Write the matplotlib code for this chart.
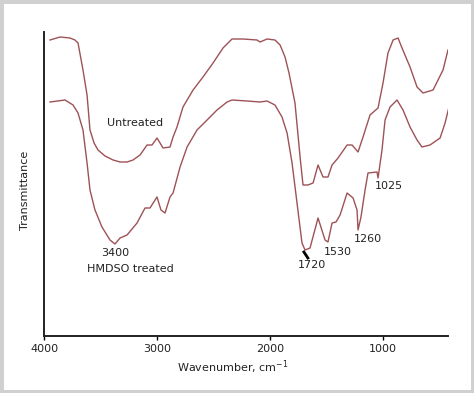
import matplotlib.pyplot as plt
from matplotlib.patches import Rectangle

# wavenumber (cm-1) and transmittance (arbitrary units)
wn_untreated = [3947, 3858, 3770, 3726, 3699, 3655, 3619, 3593, 3557, 3522,
                3460, 3389, 3327, 3265, 3212, 3150, 3088, 3044, 3000, 2973,
                2947, 2885, 2858, 2823, 2770, 2681, 2593, 2504, 2416, 2336,
                2239, 2115, 2088, 2026, 1956, 1911, 1867, 1832, 1779, 1734,
                1708, 1664, 1619, 1575, 1531, 1487, 1451, 1398, 1318, 1274,
                1221, 1177, 1115, 1044, 1000, 956, 911, 867, 832, 761,
                699, 646, 557, 469, 425]
tr_untreated = [296, 299, 298, 296, 293, 266, 241, 206, 193, 186,
                180, 176, 174, 174, 176, 181, 191, 191, 198, 193,
                188, 189, 199, 209, 229, 246, 259, 273, 288, 297,
                297, 296, 294, 297, 296, 291, 279, 263, 233, 179,
                151, 151, 153, 171, 159, 159, 171, 178, 191, 191,
                184, 199, 221, 228, 253, 283, 296, 298, 288, 269,
                249, 243, 246, 266, 286]

wn_treated = [3947, 3814, 3743, 3699, 3655, 3619, 3593, 3549, 3487, 3416,
              3372, 3327, 3265, 3177, 3106, 3062, 3000, 2965, 2929, 2885,
              2858, 2796, 2734, 2646, 2557, 2469, 2380, 2336, 2203, 2088,
              2026, 1956, 1894, 1849, 1805, 1761, 1717, 1690, 1646, 1575,
              1513, 1487, 1451, 1416, 1380, 1318, 1265, 1230, 1221, 1195,
              1159, 1133, 1053, 1044, 1009, 982, 938, 876, 823, 761,
              699, 655, 584, 495, 451, 416]
tr_treated = [234, 236, 231, 223, 206, 173, 146, 126, 109, 96,
              92, 98, 101, 113, 128, 128, 139, 126, 123, 139,
              143, 169, 189, 206, 216, 226, 234, 236, 235, 234,
              235, 231, 219, 203, 173, 133, 93, 86, 88, 118,
              96, 94, 113, 114, 121, 143, 138, 126, 106, 119,
              146, 163, 164, 158, 186, 216, 229, 236, 226, 209,
              196, 189, 191, 198, 213, 229]

# peak labels: text, wavenumber, transmittance
peak_labels = ["3400", "1720", "1530", "1260", "1025"]
peak_wn = [3372, 1628, 1398, 1133, 947]
peak_tr = [83, 71, 84, 97, 150]

x_ticks = [4000, 3000, 2000, 1000]

line_col = '#9e5256'

fig = plt.figure(figsize=(4.74, 3.93), dpi=100)
ax = fig.add_axes([44 / 474, 1 - 336 / 393, 404 / 474, 304 / 393])

ax.plot(wn_untreated, tr_untreated, color=line_col, lw=1.0)
ax.plot(wn_treated, tr_treated, color=line_col, lw=1.0)

ax.set_xlim(4000, 425)
ax.set_ylim(0, 304)

for s in ['top', 'right']:
    ax.spines[s].set_visible(False)
for s in ['left', 'bottom']:
    ax.spines[s].set_linewidth(1.4)
    ax.spines[s].set_color('#222222')

ax.set_xticks(x_ticks)
ax.set_xticklabels([str(t) for t in x_ticks], fontsize=8, color='#222222')
ax.tick_params(axis='x', direction='out', length=3, width=1, pad=3)
ax.set_yticks([])

ax.text(3195, 213, "Untreated", fontsize=8, ha='center', va='center', color='#222222')
ax.text(3239, 67, "HMDSO treated", fontsize=8, ha='center', va='center', color='#222222')
for lab, w, t in zip(peak_labels, peak_wn, peak_tr):
    ax.text(w, t, lab, fontsize=8, ha='center', va='center', color='#222222')

# small black leader near the 1720 band
ax.plot([1700, 1665], [84, 78], color='black', lw=2)

fig.text(25 / 474, 1 - 190 / 393, "Transmittance", rotation=90, fontsize=8,
         ha='center', va='center', color='#222222')
fig.text(233 / 474, 1 - 367 / 393, "Wavenumber, cm$^{-1}$", fontsize=8,
         ha='center', va='center', color='#222222')

fig.patches.append(Rectangle((0, 0), 1, 1, transform=fig.transFigure,
                             fill=False, edgecolor='#d0d0d0', lw=5))

fig.savefig('out.png', dpi=100)
